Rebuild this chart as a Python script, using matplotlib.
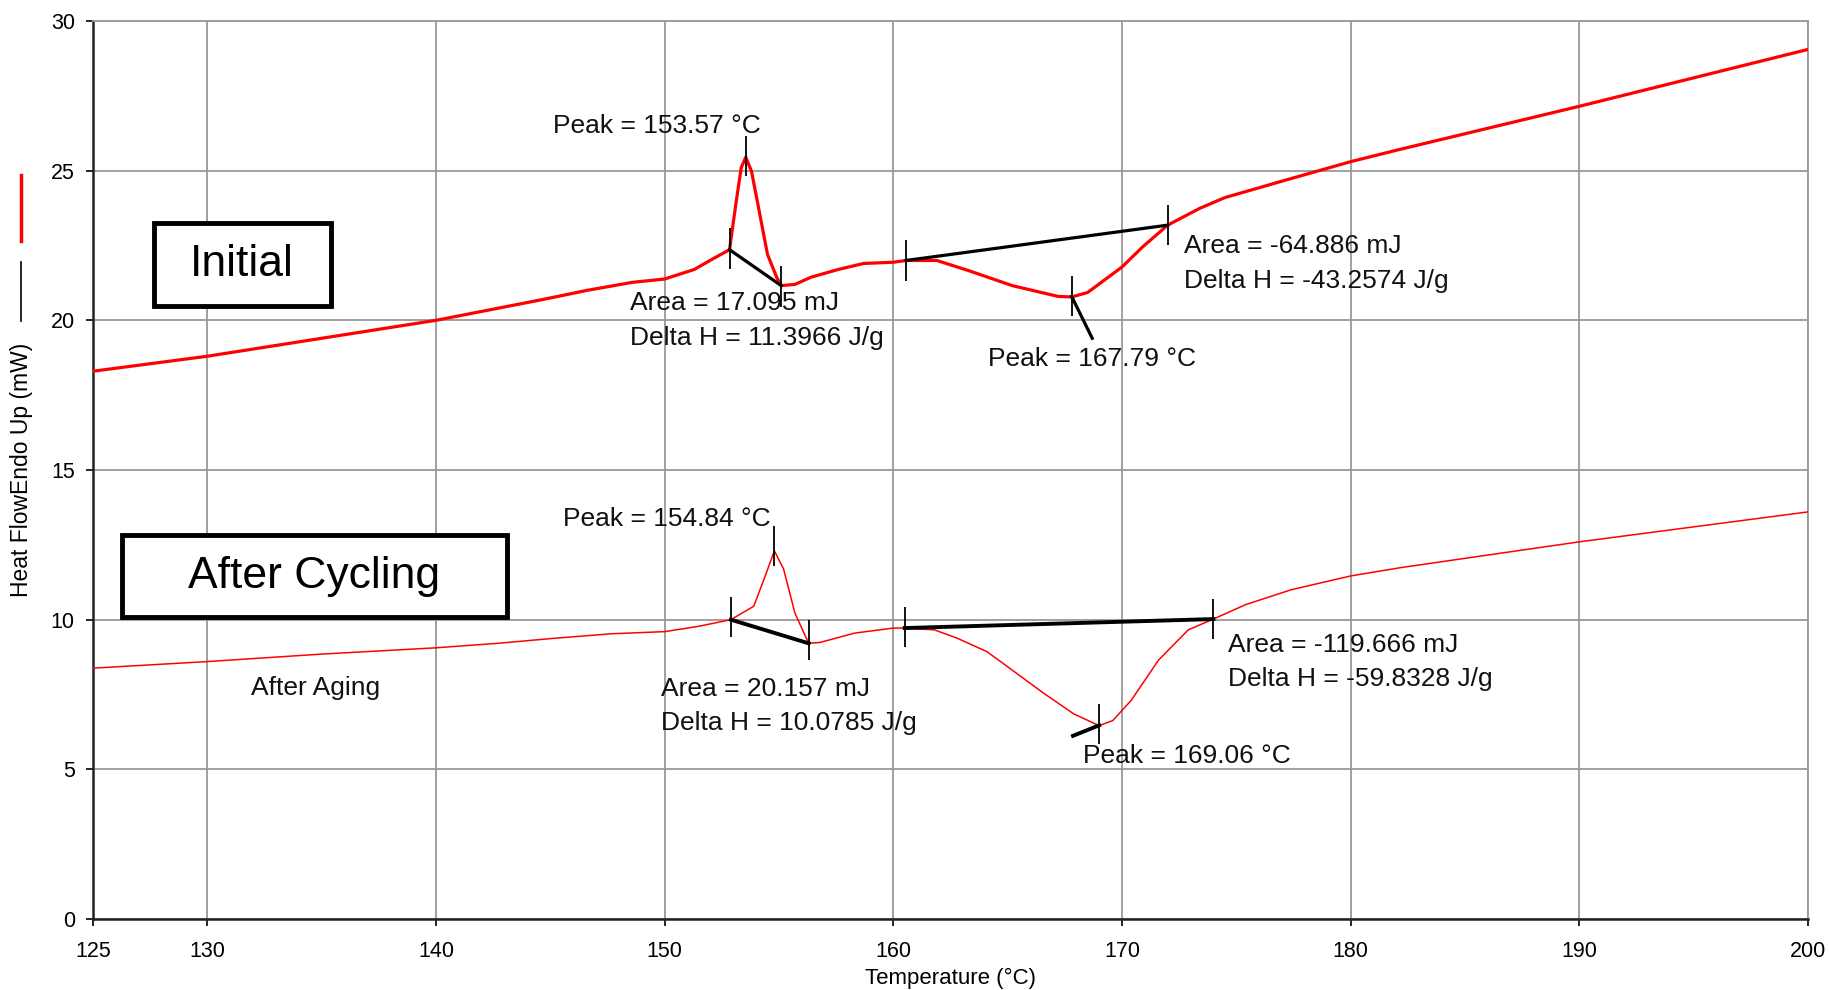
import numpy as np
import matplotlib.pyplot as plt
from matplotlib.patches import Rectangle
from matplotlib.lines import Line2D

# DSC curves: temperature (C) and heat flow (mW)
initial_temp = [125, 130, 135, 140, 144.7, 146.6, 148.6, 150, 151.3, 152.1, 152.84,
                153.1, 153.35, 153.55, 153.8, 154.1, 154.5, 154.9, 155.1, 155.7,
                156.4, 157.6, 158.7, 160, 160.56, 161.9, 163.3, 165.2, 167.2, 167.8,
                168.5, 169.4, 170, 170.9, 172.0, 173.4, 174.5, 177.0, 180, 182.1,
                190, 200]
initial_flow = [18.3, 18.8, 19.4, 20.0, 20.7, 21.0, 21.27, 21.38, 21.7, 22.05, 22.36,
                23.8, 25.1, 25.45, 24.98, 23.8, 22.2, 21.44, 21.16, 21.2,
                21.44, 21.7, 21.9, 21.94, 22.0, 22.0, 21.66, 21.16, 20.8, 20.78,
                20.93, 21.44, 21.78, 22.45, 23.18, 23.74, 24.1, 24.65, 25.3, 25.7,
                27.15, 29.05]

after_temp = [125, 130, 135, 140, 142.7, 145.2, 147.7, 150, 151.5, 152.9, 153.9,
              154.4, 154.8, 155.2, 155.7, 156.3, 156.8, 158.3, 160, 160.5, 161.8,
              162.8, 164.1, 165.3, 166.6, 167.9, 169.0, 169.6, 170.4, 171.6, 172.9,
              174.0, 175.4, 177.4, 180, 182.2, 190, 200]
after_flow = [8.38, 8.6, 8.85, 9.06, 9.21, 9.38, 9.53, 9.6, 9.78, 10.0, 10.45,
              11.46, 12.3, 11.7, 10.22, 9.21, 9.24, 9.55, 9.72, 9.72, 9.66,
              9.38, 8.93, 8.26, 7.53, 6.85, 6.46, 6.63, 7.3, 8.65, 9.66,
              10.02, 10.5, 11.0, 11.46, 11.74, 12.6, 13.6]

# integration baselines (start, end)
initial_base1 = ([152.84, 155.1], [22.36, 21.16])
initial_base2 = ([160.56, 172.0], [22.0, 23.18])
after_base1 = ([152.9, 156.3], [10.0, 9.21])
after_base2 = ([160.5, 174.0], [9.72, 10.02])

# peak leader lines
initial_leader = ([167.8, 168.7], [20.8, 19.4])
after_leader = ([167.86, 169.0], [6.12, 6.47])

# event markers (x, centre y)
marker_x = [152.84, 153.54, 155.1, 160.56, 172.0, 167.8,
            152.9, 154.8, 156.3, 160.5, 174.0, 169.0]
marker_y = [22.4, 25.5, 21.13, 22.0, 23.18, 20.8,
            10.1, 12.45, 9.33, 9.75, 10.03, 6.52]

labels = ["Peak = 153.57 °C", "Area = 17.095 mJ", "Delta H = 11.3966 J/g",
          "Peak = 167.79 °C", "Area = -64.886 mJ", "Delta H = -43.2574 J/g",
          "Peak = 154.84 °C", "Area = 20.157 mJ", "Delta H = 10.0785 J/g",
          "Peak = 169.06 °C", "Area = -119.666 mJ", "Delta H = -59.8328 J/g",
          "After Aging"]
label_x = [145.1, 148.47, 148.47, 164.13, 172.7, 172.7,
           145.56, 149.85, 149.85, 168.3, 174.64, 174.64, 131.9]
label_y = [26.49, 20.57, 19.4, 18.7, 22.48, 21.3,
           13.36, 7.67, 6.54, 5.45, 9.15, 8.02, 7.71]

x_ticks = [125, 130, 140, 150, 160, 170, 180, 190, 200]
y_ticks = [0, 5, 10, 15, 20, 25, 30]

plt.rcParams['font.family'] = ['Liberation Sans', 'DejaVu Sans']

fig = plt.figure(figsize=(18.29, 9.9), dpi=100)
ax = fig.add_axes([0.0508, 0.0717, 0.9377, 0.9071])

ax.set_xlim(125, 200)
ax.set_ylim(0, 30)
ax.set_xticks(x_ticks)
ax.set_yticks(y_ticks)
ax.grid(True, color='#999999', linewidth=1.3)
ax.set_axisbelow(True)
ax.tick_params(direction='out', length=5, width=1.2, labelsize=15.5, colors='black')
ax.tick_params(axis='y', pad=8)
ax.tick_params(axis='x', pad=11)
for s in ['left', 'bottom']:
    ax.spines[s].set_linewidth(1.8)
    ax.spines[s].set_color('#222222')
for s in ['top', 'right']:
    ax.spines[s].set_linewidth(1.3)
    ax.spines[s].set_color('#999999')

ax.plot(initial_temp, initial_flow, color='red', linewidth=2.3, zorder=3)
ax.plot(after_temp, after_flow, color='red', linewidth=1.1, zorder=3)

for bx, by in [initial_base1, initial_base2, initial_leader]:
    ax.plot(bx, by, color='black', linewidth=2.3, zorder=4)
for bx, by in [after_base1, after_base2, after_leader]:
    ax.plot(bx, by, color='black', linewidth=2.8, zorder=4)

ax.vlines(marker_x, np.array(marker_y) - 0.67, np.array(marker_y) + 0.67,
          color='black', linewidth=1.3, zorder=5)

for t, x, y in zip(labels, label_x, label_y):
    ax.text(x, y, t, fontsize=19, ha='left', va='center', color='#111111', zorder=6)

# boxed titles
for (x0, y0, w, h, txt) in [(127.65, 20.49, 7.75, 2.77, "Initial"),
                            (126.28, 10.09, 16.82, 2.73, "After Cycling")]:
    ax.add_patch(Rectangle((x0, y0), w, h, facecolor='white', edgecolor='black',
                           linewidth=3.5, zorder=6))
    ax.text(x0 + w / 2, y0 + h / 2, txt, fontsize=32, ha='center', va='center', zorder=7)

ax.set_xlabel("Temperature (°C)", fontsize=16, labelpad=4)
fig.text(0.0115, 0.525, "Heat FlowEndo Up (mW)", rotation=90, fontsize=16.5,
         ha='center', va='center')
fig.add_artist(Line2D([0.0115, 0.0115], [0.757, 0.823], color='red', linewidth=2.5,
                      transform=fig.transFigure))
fig.add_artist(Line2D([0.0115, 0.0115], [0.676, 0.735], color='black', linewidth=1.2,
                      transform=fig.transFigure))

fig.savefig("out.png", dpi=100)
